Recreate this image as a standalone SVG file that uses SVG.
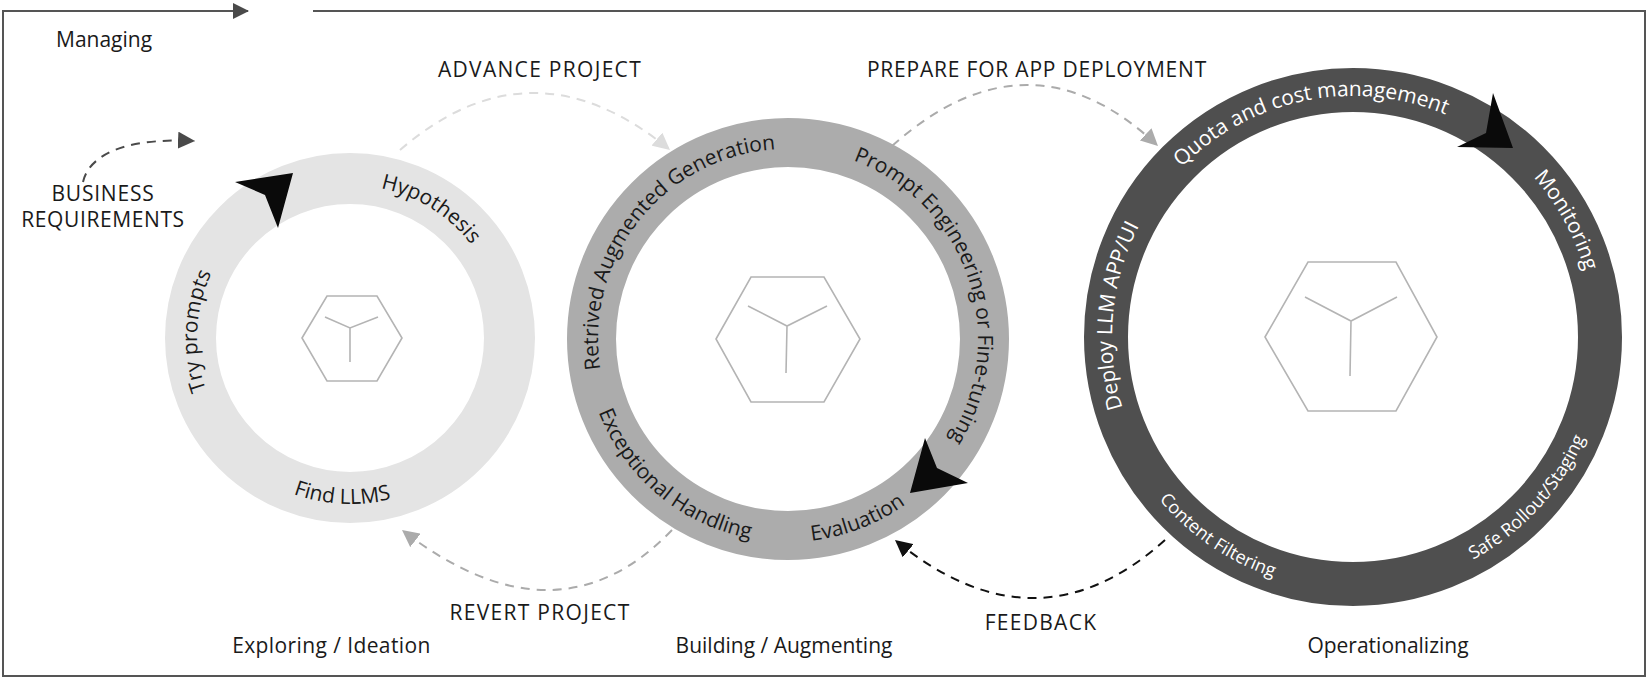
<svg xmlns="http://www.w3.org/2000/svg" width="1650" height="681" viewBox="0 0 1650 681">
<defs>
<style>
.t{font-family:"Open Sans","Liberation Sans",sans-serif;font-size:21px;fill:#1a1a1a}
.cap{letter-spacing:1.3px}
.r{font-family:"Open Sans","Liberation Sans",sans-serif;font-size:21px;fill:#1a1a1a}
.w{fill:#ffffff}
.hex{fill:none;stroke:#b4b4b4;stroke-width:1.6}
.dash{fill:none;stroke-width:2;stroke-dasharray:9 7}
.ah{fill:#0a0a0a}
</style>
<marker id="mDark" viewBox="0 0 10 10" refX="10" refY="5" markerWidth="17" markerHeight="17" markerUnits="userSpaceOnUse" orient="auto"><path d="M0,0 L10,5 L0,10 z" fill="#4a4a4a"/></marker>
<marker id="mLight" viewBox="0 0 10 10" refX="10" refY="5" markerWidth="17" markerHeight="17" markerUnits="userSpaceOnUse" orient="auto"><path d="M0,0 L10,5 L0,10 z" fill="#dcdcdc"/></marker>
<marker id="mGray" viewBox="0 0 10 10" refX="10" refY="5" markerWidth="17" markerHeight="17" markerUnits="userSpaceOnUse" orient="auto"><path d="M0,0 L10,5 L0,10 z" fill="#ababab"/></marker>
<marker id="mBlack" viewBox="0 0 10 10" refX="10" refY="5" markerWidth="17" markerHeight="17" markerUnits="userSpaceOnUse" orient="auto"><path d="M0,0 L10,5 L0,10 z" fill="#111111"/></marker>
<path id="c1cw" d="M197,338 A153,153 0 1 1 503,338 A153,153 0 1 1 197,338 A153,153 0 1 1 503,338 A153,153 0 1 1 197,338"/>
<path id="c1ccw" d="M184,338 A166,166 0 1 0 516,338 A166,166 0 1 0 184,338 A166,166 0 1 0 516,338 A166,166 0 1 0 184,338"/>
<path id="c2cw" d="M598,339 A190,190 0 1 1 978,339 A190,190 0 1 1 598,339 A190,190 0 1 1 978,339 A190,190 0 1 1 598,339"/>
<path id="c2ccw" d="M585,339 A203,203 0 1 0 991,339 A203,203 0 1 0 585,339 A203,203 0 1 0 991,339 A203,203 0 1 0 585,339"/>
<path id="c3cw" d="M1112,337 A241,241 0 1 1 1594,337 A241,241 0 1 1 1112,337 A241,241 0 1 1 1594,337 A241,241 0 1 1 1112,337"/>
<path id="c3ccw" d="M1100,337 A253,253 0 1 0 1606,337 A253,253 0 1 0 1100,337 A253,253 0 1 0 1606,337 A253,253 0 1 0 1100,337"/>
</defs>
<rect width="1650" height="681" fill="#ffffff"/>

<g id="frame">
<path d="M248,11 H3 V676 H1645 V11 H313" fill="none" stroke="#555555" stroke-width="2"/>
<polygon points="233,3 249,11 233,19" fill="#4a4a4a"/>
<text class="t" x="56" y="47">Managing</text>
</g>

<g id="exploring">
<circle cx="350" cy="338" r="159.5" fill="none" stroke="#e4e4e4" stroke-width="51"/>
<polygon class="hex" points="302,338 327,296 377,296 402,338 377,381 327,381"/>
<path class="hex" d="M325,317 L350,328 L378,317 M350,328 L350,362"/>
<polygon class="ah" points="293,173 278,228 265,195 235,182"/>
<text class="r"><textPath href="#c1cw" startOffset="325.8" text-anchor="middle">Hypothesis</textPath></text>
<text class="r"><textPath href="#c1cw" startOffset="968" text-anchor="middle">Try prompts</textPath></text>
<text class="r"><textPath href="#c1ccw" startOffset="1295.1" text-anchor="middle">Find LLMS</textPath></text>
<text class="t" x="331.5" y="653" text-anchor="middle" style="letter-spacing:0.4px">Exploring / Ideation</text>
</g>

<g id="building">
<circle cx="788" cy="339" r="196.5" fill="none" stroke="#acacac" stroke-width="49"/>
<polygon class="hex" points="716,339 751,277 824,277 860,339 824,402 751,402"/>
<path class="hex" d="M748,306 L787,326 L827,306 M787,326 L786,373"/>
<polygon class="ah" points="910,493 925,438 937,468 968,483"/>
<text class="r"><textPath href="#c2cw" startOffset="1321.5" text-anchor="middle">Retrived Augmented Generation</textPath></text>
<text class="r"><textPath href="#c2cw" startOffset="533.9" text-anchor="middle">Prompt Engineering or Fine-tuning</textPath></text>
<text class="r"><textPath href="#c2ccw" startOffset="393.3" text-anchor="middle">Evaluation</textPath></text>
<text class="r"><textPath href="#c2ccw" startOffset="1452.6" text-anchor="middle">Exceptional Handling</textPath></text>
<text class="t" x="784" y="653" text-anchor="middle">Building / Augmenting</text>
</g>

<g id="operationalizing">
<circle cx="1353" cy="337" r="247" fill="none" stroke="#4f4f4f" stroke-width="44"/>
<polygon class="hex" points="1265,337 1308,262 1396,262 1437,337 1396,411 1308,411"/>
<path class="hex" d="M1305,297 L1351,321 L1397,297 M1351,321 L1350,376"/>
<polygon class="ah" points="1513,148 1457,147 1486,133 1493,93"/>
<text class="r w"><textPath href="#c3cw" startOffset="1844.4" text-anchor="middle">Quota and cost management</textPath></text>
<text class="r w"><textPath href="#c3cw" startOffset="636" text-anchor="middle">Monitoring</textPath></text>
<text class="r w"><textPath href="#c3cw" startOffset="1535.3" text-anchor="middle">Deploy LLM APP/UI</textPath></text>
<text class="r w" style="font-size:18px"><textPath href="#c3ccw" startOffset="1835.2" text-anchor="middle">Content Filtering</textPath></text>
<text class="r w" style="font-size:18px"><textPath href="#c3ccw" startOffset="606.3" text-anchor="middle">Safe Rollout/Staging</textPath></text>
<text class="t" x="1388" y="653" text-anchor="middle">Operationalizing</text>
</g>

<g id="connectors">
<path class="dash" d="M83,182 C88,160 115,137 195,141" stroke="#4a4a4a" marker-end="url(#mDark)"/>
<path class="dash" d="M400,150 Q532,36 670,150" stroke="#dcdcdc" marker-end="url(#mLight)"/>
<path class="dash" d="M892,146 Q1029,24 1158,146" stroke="#ababab" marker-end="url(#mGray)"/>
<path class="dash" d="M672,530 Q557,650 402,530" stroke="#ababab" marker-end="url(#mGray)"/>
<path class="dash" d="M1165,540 Q1036,656 895,540" stroke="#111111" marker-end="url(#mBlack)"/>
</g>

<g id="labels">
<text class="t" x="103" y="201" text-anchor="middle" style="letter-spacing:0.8px">BUSINESS</text>
<text class="t" x="103" y="227" text-anchor="middle" style="letter-spacing:0.6px">REQUIREMENTS</text>
<text class="t cap" x="540" y="77" text-anchor="middle">ADVANCE PROJECT</text>
<text class="t" x="1037" y="77" text-anchor="middle" style="letter-spacing:0.8px">PREPARE FOR APP DEPLOYMENT</text>
<text class="t cap" x="540" y="620" text-anchor="middle">REVERT PROJECT</text>
<text class="t cap" x="1041" y="630" text-anchor="middle">FEEDBACK</text>
</g>
</svg>
